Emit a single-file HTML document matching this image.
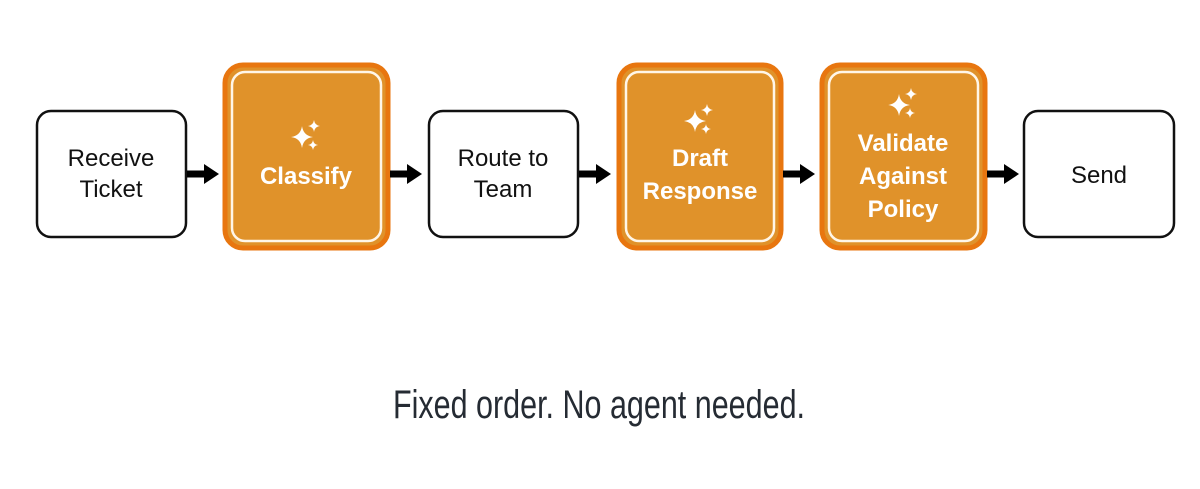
<!DOCTYPE html>
<html><head><meta charset="utf-8"><style>
html,body{margin:0;padding:0;background:#fff;width:1200px;height:489px;overflow:hidden}
text{font-family:"Liberation Sans",sans-serif}
.w{font-size:24px;fill:#111}
.o{font-size:24px;font-weight:bold;fill:#fff}
</style></head><body>
<svg width="1200" height="489" viewBox="0 0 1200 489" xmlns="http://www.w3.org/2000/svg">
<defs>
<path id="st" d="M0,-1 Q0.12,-0.12 1,0 Q0.12,0.12 0,1 Q-0.12,0.12 -1,0 Q-0.12,-0.12 0,-1Z"/>
<g id="sp" fill="#fff">
<use href="#st" transform="translate(-5,3) scale(11)"/>
<use href="#st" transform="translate(7,-8) scale(6)"/>
<use href="#st" transform="translate(6,11) scale(5)"/>
</g>
<g id="ar"><rect x="0" y="-3.5" width="20" height="7" fill="#000"/><path d="M17,-10 L32,0 L17,10Z" fill="#000"/></g>
</defs>
<!-- white boxes -->
<rect x="37" y="111" width="149" height="126" rx="14" fill="#fff" stroke="#111" stroke-width="2.5"/>
<text class="w" x="111" y="166" text-anchor="middle">Receive</text>
<text class="w" x="111" y="197" text-anchor="middle">Ticket</text>
<rect x="429" y="111" width="149" height="126" rx="14" fill="#fff" stroke="#111" stroke-width="2.5"/>
<text class="w" x="503" y="166" text-anchor="middle">Route to</text>
<text class="w" x="503" y="197" text-anchor="middle">Team</text>
<rect x="1024" y="111" width="150" height="126" rx="14" fill="#fff" stroke="#111" stroke-width="2.5"/>
<text class="w" x="1099" y="183" text-anchor="middle">Send</text>
<!-- orange boxes -->
<g>
<rect x="225" y="65" width="163" height="183" rx="18" fill="#E0922A" stroke="#E8760F" stroke-width="5"/>
<rect x="232" y="72" width="149" height="169" rx="13" fill="none" stroke="#fff6e8" stroke-width="2.5"/>
<use href="#sp" transform="translate(307,134)"/>
<text class="o" x="306" y="184" text-anchor="middle">Classify</text>
</g>
<g>
<rect x="619" y="65" width="162" height="183" rx="18" fill="#E0922A" stroke="#E8760F" stroke-width="5"/>
<rect x="626" y="72" width="148" height="169" rx="13" fill="none" stroke="#fff6e8" stroke-width="2.5"/>
<use href="#sp" transform="translate(700,118)"/>
<text class="o" x="700" y="166" text-anchor="middle">Draft</text>
<text class="o" x="700" y="199" text-anchor="middle">Response</text>
</g>
<g>
<rect x="822" y="65" width="163" height="183" rx="18" fill="#E0922A" stroke="#E8760F" stroke-width="5"/>
<rect x="829" y="72" width="149" height="169" rx="13" fill="none" stroke="#fff6e8" stroke-width="2.5"/>
<use href="#sp" transform="translate(904,102)"/>
<text class="o" x="903" y="151" text-anchor="middle">Validate</text>
<text class="o" x="903" y="184" text-anchor="middle">Against</text>
<text class="o" x="903" y="217" text-anchor="middle">Policy</text>
</g>
<!-- arrows -->
<use href="#ar" transform="translate(187,174)"/>
<use href="#ar" transform="translate(390,174)"/>
<use href="#ar" transform="translate(579,174)"/>
<use href="#ar" transform="translate(783,174)"/>
<use href="#ar" transform="translate(987,174)"/>
<text x="599" y="418" text-anchor="middle" textLength="412" lengthAdjust="spacingAndGlyphs" style="font-family:'Liberation Sans Narrow','Liberation Sans',sans-serif;font-size:40px;fill:#252b33">Fixed order. No agent needed.</text>
</svg>
</body></html>
